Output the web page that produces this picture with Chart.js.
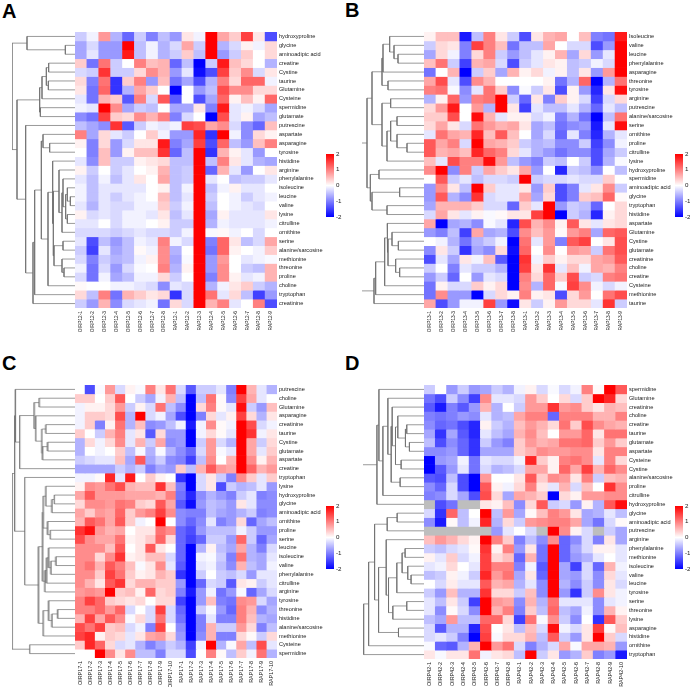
<!DOCTYPE html>
<html>
<head>
<meta charset="utf-8">
<title>Amino acid heatmaps</title>
<script src="https://cdn.jsdelivr.net/npm/chart.js@4"></script>
<style>
    html, body { margin: 0; padding: 0; background: #fff; }
    #page { position: relative; width: 690px; height: 687px; overflow: hidden; }
    #page canvas { position: absolute; }
    .letter { position: absolute; font: bold 20px "Liberation Sans", Arial, sans-serif; color: #000; line-height: 20px; }
</style>
</head>
<body>
<div id="page"></div>
<script>
// ---- panel A ----
const rowsA = ["hydroxyproline","glycine","aminoadipic acid","creatine","Cystine","taurine","Glutamine","Cysteine","spermidine","glutamate","putrescine","aspartate","asparagine","tyrosine","histidine","arginine","phenylalanine","isoleucine","leucine","valine","lysine","citrulline","ornithine","serine","alanine/sarcosine","methionine","threonine","proline","choline","tryptophan","creatinine"];
const colsA = ["OIRP12-1","OIRP12-2","OIRP12-3","OIRP12-4","OIRP12-5","OIRP12-6","OIRP12-7","OIRP12-8","RAP12-1","RAP12-2","RAP12-3","RAP12-4","RAP12-5","RAP12-6","RAP12-7","RAP12-8","RAP12-9"];
const valuesA = [
[-0.4,-0.1,0.8,-0.6,-1.2,-0.4,-1.0,-0.5,-0.8,0.2,-0.1,2,0.7,0.4,1.5,0.2,-1.4],
[-0.7,-0.3,-0.8,-0.8,2,-0.5,-0.1,-0.6,-0.3,0.7,-0.4,2,-0.6,-0.3,0.1,-0.1,0.3],
[-0.7,-0.2,-0.8,-0.8,1.8,-0.5,-0.1,-0.6,-0.4,0.4,-0.5,2,-0.8,-0.4,0.4,0,0.3],
[0.4,-1.1,1.1,-0.4,0,1.0,0.5,0.6,-1.2,-0.5,-2,-0.4,1.8,0.5,0.3,0,-0.6],
[-0.3,-0.4,1.6,-0.4,-0.4,0.3,0.9,0.6,-0.8,-0.2,-1.9,-1.4,1.5,0.4,0.9,-0.3,0.2],
[0.3,-1.0,1.1,-1.6,0.4,1.0,-0.8,0.5,-1.1,-0.7,-1.4,-0.6,1.0,0.3,1.2,1.2,-0.1],
[0.2,-1.1,1.2,-1.6,-0.6,0.7,0.4,0,-2,0,-0.8,-0.5,1.4,0.9,0.9,0.3,0.3],
[-0.2,-1.1,0.6,0.4,-1.3,1.0,-0.3,1.3,-1.3,0,-1.4,-0.7,1.2,0.1,0.5,0.1,1.2],
[-0.1,-0.2,2,0.9,-0.7,-0.4,-0.5,0,-0.7,-0.7,0.2,-1.0,1.8,-0.2,-0.1,-0.3,-0.7],
[-0.9,-1.1,1.5,0.4,0.3,0.9,0.6,1.0,-1.0,-0.3,0,-2,1.4,-0.2,0.1,-0.7,-0.5],
[-0.5,-0.7,-0.9,1.6,-1.3,-0.4,-0.1,-0.2,-0.1,1.5,1.4,0.7,0.9,-0.3,-0.9,-1.2,0.5],
[1.0,-0.7,0.3,-0.2,-0.4,0,0.4,-0.1,-0.8,-0.8,1.7,-1.6,2,-0.1,-0.9,0.3,0.1],
[0.1,-1.0,0.3,-0.8,-0.3,0.2,0.2,1.8,-1.0,-0.7,1.5,-1.4,1.2,-0.5,-0.8,0.5,1.0],
[0,-1.0,0.5,-0.8,0.1,0.5,0.5,1.6,-1.2,-0.5,2,-1.6,0.6,0.1,-0.2,-0.8,0],
[-0.2,-0.9,0.5,-0.4,-0.4,0.1,0.2,0.3,-0.5,-0.5,2,-0.5,1.0,0.2,-0.2,-0.6,-0.7],
[0.1,-0.4,0,-0.4,-0.2,0,0.1,0.6,-0.5,-0.4,2,-1.2,0.6,-0.2,-0.8,0,0.2],
[-0.2,-0.5,-0.1,-0.5,-0.2,0.2,0,0.7,-0.5,-0.4,2,-0.2,0,-0.5,-0.4,-0.4,-0.2],
[-0.1,-0.5,-0.2,-0.2,-0.2,-0.2,0,0.1,-0.5,-0.1,2,-0.5,-0.1,0.1,-0.2,-0.2,0],
[-0.1,-0.5,-0.2,-0.4,-0.2,-0.1,0,0.5,-0.5,-0.2,2,-0.4,0,-0.1,-0.4,-0.2,-0.1],
[-0.2,-0.6,-0.2,-0.3,-0.3,-0.1,-0.1,0.4,-0.4,-0.1,2,-0.5,0,-0.1,-0.2,-0.3,0],
[0.1,-0.3,-0.2,-0.3,-0.1,-0.1,-0.2,0.2,-0.5,-0.2,2,-0.7,0.1,-0.2,-0.2,-0.2,0.2],
[-0.2,-0.2,0,-0.3,-0.1,-0.1,0,0.1,-0.4,-0.4,2,-0.6,-0.1,-0.2,-0.2,-0.2,-0.1],
[-0.3,-0.3,-0.3,-0.4,-0.3,-0.2,-0.3,-0.3,-0.4,-0.1,2,-0.05,0.05,-0.1,0,-0.3,0],
[-0.2,-1.4,-0.5,-0.8,-0.5,-0.1,-0.2,1.0,-0.1,-0.3,2,-1.0,1.2,0.2,-0.5,-0.3,0.7],
[-0.4,-1.5,-0.2,-0.7,-0.5,0.05,-0.1,0.9,-0.6,0,2,-1.1,1.2,0.1,0,-0.1,0.4],
[-0.3,-1.0,-0.4,-0.6,-0.5,-0.1,0.1,0.9,-0.7,-0.05,2,-0.8,0.8,0,-0.2,-0.1,-0.05],
[-0.1,-1.1,-0.3,-0.8,-0.3,-0.05,0,1.0,-0.6,0.1,2,-0.8,0.9,0,-0.4,-0.5,0.6],
[-0.3,-1.1,-0.1,-0.7,-0.5,-0.1,-0.1,0.3,-0.4,0,2,-1.0,0.9,0.1,-0.2,-0.1,0.6],
[0.05,0,0,-0.1,-0.1,-0.2,-0.3,-0.9,-0.2,-0.3,2,-0.6,-0.1,0.2,0.4,-0.4,-0.6],
[0.3,-0.5,1.0,-1.1,0.6,0.4,0.2,0.3,-1.6,-0.3,2,1.1,-0.2,0.3,-0.5,-1.5,-0.8],
[-0.4,-0.8,0.6,-0.9,-0.3,-0.2,-0.1,-1.1,0.3,-0.3,2,0.6,1.0,-0.2,0,1.0,-1.4]
];
// trees: [height, left, right], a plain number is a row
const treeA = [189,
    [144, 0, [29, 1, 2]],
    [174,
        [106, [99, [86, [79, 3, 4], [80, 5, 6]], 7], [104, 8, 9]],
        [148, 10,
            [126,
                [121,
                    [101,
                        [96, 11, [76, 12, 13]],
                        [81,
                            [67, 14,
                                [65,
                                    [48, 15, [39, [36, 16, [28, [23, 17, [14, 18, 19]], [23, 20, 21]]], 22]],
                                    [63, [36, 23, 24], [39, 25, [33, 26, 27]]]
                                ]
                            ],
                            28
                        ]
                    ],
                    29
                ],
                30
            ]
        ]
    ]
];

// ---- panel B ----
const rowsB = ["Isoleucine","valine","leucine","phenylalanine","asparagine","threonine","tyrosine","arginine","putrescine","alanine/sarcosine","serine","ornithine","proline","citrulline","lysine","hydroxyproline","spermidine","aminoadipic acid","glycine","tryptophan","histidine","aspartate","Glutamine","Cystine","glutamate","creatinine","choline","creatine","Cysteine","methionine","taurine"];
const colsB = ["OIRP13-1","OIRP13-2","OIRP13-3","OIRP13-4","OIRP13-5","OIRP13-6","OIRP13-7","OIRP13-8","RAP13-1","RAP13-2","RAP13-3","RAP13-4","RAP13-5","RAP13-6","RAP13-7","RAP13-8","RAP13-9"];
const valuesB = [
[0.1,0.5,0.5,-1.8,-0.5,1.0,0.2,-0.4,-1.4,0.2,0.6,0.7,0,0.5,-1.0,-1.1,1.8],
[-0.4,0.3,0.2,-1.0,1.5,1.0,0.5,-1.1,-0.5,-0.5,0.7,0,-0.3,-0.3,-1.4,-0.8,2],
[-0.7,0.3,-0.1,-1.0,0.3,1.0,-0.4,-0.8,-0.5,-0.2,0.1,0.6,-0.7,0.3,-0.8,-0.2,2],
[0.5,1.1,-0.4,-1.5,0.6,0.7,-0.3,-1.4,-0.4,-0.2,0.2,0.1,-0.5,-0.4,-0.1,-0.3,2],
[-1.1,0,0.6,-2,-0.4,0.4,-0.7,0.6,0.1,0.3,-0.1,0.1,-0.5,0.2,-0.8,0.8,2],
[0.7,1.4,-0.2,-1.4,0.9,0.6,0,0,0,0,0.1,-1.1,-0.6,1.2,-2,-0.6,1.1],
[1.0,1.1,-0.05,-0.9,-0.2,1.1,0.4,-0.9,-0.05,-0.4,0.2,-1.4,0.1,-0.8,-1.7,0.2,1.9],
[-0.6,0.1,1.2,-0.8,1.0,1.1,2,-0.4,-1.2,0.2,-1.0,0.4,0.1,-0.3,-1.5,-0.3,0.3],
[0.3,0.8,1.8,0,0.8,-0.6,2,0.2,-1.5,-0.2,-0.5,-0.5,-0.2,-0.6,-1.2,-0.2,-0.5],
[0.4,0.4,1.4,0,1.9,0.6,-0.2,0.1,0.1,-0.3,-0.1,-1.0,-0.6,-1.1,-2,-0.5,1.1],
[0.3,0.7,0.2,-0.3,1.1,0.8,0.6,0.7,0.2,-0.7,-0.5,-1.1,-0.9,-0.8,-1.8,-0.2,1.9],
[-0.2,1.1,0.7,0.6,1.7,0.5,1.3,0.5,0,-0.7,-0.3,-1.2,-0.2,-1.0,-1.7,-0.6,-0.2],
[1.3,0.7,1.0,-0.3,2,0.7,0.6,0.4,-0.4,-0.6,-0.5,-0.9,-0.9,-0.4,-1.5,-0.9,-0.1],
[1.3,0.6,0.7,0.5,1.7,1.2,1.0,0.3,-0.2,-0.6,-0.8,-1.1,-0.9,-0.9,-1.4,-0.7,-0.4],
[0.5,-0.2,1.4,1.0,1.0,1.9,0.8,-0.5,-0.8,-1.0,-0.4,-0.5,0,-0.4,-1.4,-0.6,-0.05],
[0.9,2,-0.9,1.0,-0.4,0.7,0.4,0.2,0.7,-0.8,0,-1.7,-0.4,-0.5,-0.9,0,-0.5],
[0,1.3,-0.4,-0.2,-0.5,-0.3,-0.3,-0.4,2,-0.4,-0.3,-0.3,-0.2,-0.3,-0.3,0.4,0],
[-0.8,0.9,0.2,-0.5,2,0.4,-0.2,-0.2,0.2,-0.8,0.4,-1.4,-1.0,-0.2,0.2,0.9,-0.4],
[-0.8,1.3,-0.6,-0.9,1.6,-0.3,-0.2,-0.2,0.7,-0.7,0.3,-1.4,-1.0,0.4,0.5,1.2,0.05],
[-0.7,0.6,0.6,0.6,0.4,-0.3,-0.3,-1.2,0.4,-0.2,2,-0.8,-0.4,-0.5,-1.2,0,0.3],
[-0.3,0.7,0.2,-0.2,0.1,-0.05,0.05,0.2,0.2,1.5,2,-2,-0.4,-0.6,-1.7,0.1,0.3],
[0.7,-2,-0.7,-0.6,-0.9,-0.05,-0.2,-1.7,1.4,0.6,0.9,0.1,1.3,0.2,-0.2,0.2,0.3],
[-0.8,-1.0,-0.5,-1.5,0.7,-0.7,-0.6,-1.4,0.9,0.5,0.8,0.05,0.8,1.0,-0.7,1.2,1.3],
[0,-0.1,-0.6,-1.1,-0.6,-0.4,-0.1,-2,1.1,-0.2,0.8,-1.0,1.3,1.5,0,0.2,1.4],
[-0.9,0.2,-0.4,-1.6,-0.7,-0.9,0.3,-1.9,1.2,0,0.9,0,0.8,0.7,-0.4,1.1,1.4],
[-1.4,-0.2,-0.7,0.2,-0.1,0.5,-1.3,-2,1.6,-0.1,0.4,0.1,0.3,0.3,0.7,0.8,1.3],
[-0.4,0,-1.0,-0.2,-0.4,-0.4,-0.6,-2,1.5,0.2,1.6,-0.2,0.5,-0.1,0.7,0.6,1.0],
[-0.8,-0.4,-1.2,0,-0.8,-0.2,-0.3,-2,1.0,0.3,1.2,0.4,1.4,-0.4,-0.3,1.0,1.1],
[-1.1,0.1,-0.3,-0.3,0.4,0.1,0.3,-2,0.9,-0.6,1.2,-0.05,1.5,0.9,-0.1,-0.3,-0.1],
[-1.1,0.9,-0.8,-0.8,-2,-0.3,0.3,0.1,1.0,0.1,0.2,-1.4,0.3,0.8,0,1.1,1.4],
[0.7,-1.4,-0.8,-0.1,-0.1,1.5,-0.8,-1.9,0.2,-0.4,0.1,0.8,0.3,0.3,-0.2,1.6,-0.4]
];
const treeB = [186,
    [171,
        [156,
            [126,
                [123, [103, 0, [90, 1, [78, 2, 3]]], 4],
                [108, 5, 6]
            ],
            [126,
                [100, 7, 8],
                [111, [100, [81, 9, 10], [81, 11, [51, 12, 13]]], 14]
            ]
        ],
        [161,
            [135, 15, 16],
            [156, [73, 17, 18], [111, 19, 20]]
        ]
    ],
    [150,
        [145,
            [118,
                [111, 21,
                    [108,
                        [96, 22, [77, 23, 24]],
                        [85, 25, [73, 26, 27]]
                    ]
                ],
                28
            ],
            29
        ],
        30
    ]
];

// ---- panel C ----
const rowsC = ["putrescine","choline","Glutamine","asparagine","creatinine","taurine","Cystine","glutamate","aspartate","creatine","tryptophan","lysine","hydroxyproline","glycine","aminoadipic acid","ornithine","proline","serine","leucine","isoleucine","valine","phenylalanine","citrulline","arginine","tyrosine","threonine","histidine","alanine/sarcosine","methionine","Cysteine","spermidine"];
const colsC = ["OIRP17-1","OIRP17-2","OIRP17-3","OIRP17-4","OIRP17-5","OIRP17-6","OIRP17-7","OIRP17-8","OIRP17-9","OIRP17-10","RAP17-1","RAP17-2","RAP17-3","RAP17-4","RAP17-5","RAP17-6","RAP17-7","RAP17-8","RAP17-9","RAP17-10"];
const valuesC = [
[0,-1.4,-0.05,0.8,-0.3,0.1,-0.05,1.0,0.2,1.1,-0.3,-1.3,-0.4,-0.4,-0.2,-1.0,2,0.6,-0.2,-0.6],
[0.4,0.4,0,0.4,1.3,0,-0.4,-0.7,-0.1,0.6,-0.5,-2,-0.5,1.1,0.05,-0.9,1.5,0.7,-0.2,0],
[-0.1,0.1,0.1,0.3,0.8,-0.4,0.1,-0.3,1.1,-0.5,-0.9,-2,0.3,1.0,0.05,-0.2,1.9,-0.4,-0.8,0.5],
[-0.1,0.4,0.4,0.3,1.4,-0.6,2,-0.3,-0.1,-0.7,-1.4,-2,-1.0,0.3,-0.2,0.1,1.5,0.3,-0.6,0.2],
[-0.1,0.4,-1.0,0.1,1.1,-0.6,0.5,-0.9,-0.8,-0.5,-0.1,-1.8,-0.1,0.9,0.05,-0.1,2,1.4,-0.3,-0.1],
[0.4,0,-0.4,0.6,1.0,-0.2,0.2,-1.3,0.3,-0.8,-0.8,-2,-0.1,0.3,0.05,-0.2,2,1.6,-0.1,0.2],
[-0.6,0.3,-0.1,0.3,0.9,-0.2,0.6,-0.4,0.7,-0.9,-0.8,-2,-0.4,0.8,-0.3,-0.6,2,0.7,-0.4,0.3],
[-0.6,0,-0.1,0,0.4,-0.5,-0.05,-0.6,-0.05,-0.6,-0.9,-1.2,-0.3,0.8,-0.05,-0.2,2,0.7,-0.2,0.4],
[-0.4,-0.3,-0.2,-0.2,0.5,-0.7,1.3,-0.7,-0.4,-0.9,-1.0,-1.5,-0.5,0.9,0,0.6,2,0.9,0.1,0.6],
[-0.7,-0.7,-0.7,-0.7,-0.4,-0.6,-0.4,-1.0,-0.7,-0.8,0.4,-0.5,0.6,1.3,0.8,0.7,2,1.2,0.6,0.8],
[-0.1,-0.1,0.05,1.7,-0.2,1.8,0,0.4,0.1,0,-1.6,-2,-0.3,0.2,-0.4,-1.0,0.9,0.4,-0.2,0.4],
[0.1,0.9,0.8,1.1,1.4,0.6,0.5,0.5,1.6,0.5,-1.0,-2,-0.3,0.2,-1.4,-0.4,-0.6,-0.5,-0.2,-0.8],
[0.7,1.3,0.8,0.8,0.8,0.7,0.7,0.7,0.6,1.0,-1.1,-1.7,-0.9,-0.6,-0.8,-1.0,-0.4,-0.2,-1.0,-0.9],
[0.3,0.9,0.9,0.8,1.1,1.0,0.4,0.3,1.3,0.7,-1.3,-1.9,-0.8,-0.5,-0.6,-0.8,0.2,-0.2,-0.9,-0.9],
[0.7,0.4,0.8,0.7,1.2,0.4,0.8,1.0,1.5,0.9,-0.9,-1.0,-1.0,-0.5,-0.7,-0.8,-0.6,-0.4,-1.0,-0.9],
[0.6,1.3,1.1,0.7,1.3,0.4,-0.1,0,2,0,-0.9,-1.2,-0.9,-0.2,-1.0,-0.8,0.3,-1.2,-0.7,-0.5],
[1.6,1.9,0.8,0.6,0.7,0,0.2,0.2,1.1,0.9,-1.2,-1.4,-0.8,-0.5,-0.5,-0.5,-0.1,-0.4,-0.8,-0.8],
[1.4,0.9,0.7,0.7,1.1,0.1,0.2,0.4,1.2,0.3,-1.2,-1.5,-1.2,-0.4,-0.4,-0.8,1.2,-0.4,-1.2,-0.7],
[0.9,0.9,0.9,0.5,1.3,0,0.2,1.3,0.2,0,-1.2,-2,-0.6,0.1,-0.5,-0.7,0.7,-0.6,-1.0,-0.3],
[0.9,0.9,0.3,0.9,1.6,0.1,0.2,0.5,0.5,-0.3,-1.2,-2,-0.1,-0.05,-0.4,-1.0,1.1,-0.6,-0.7,-0.2],
[0.9,1.1,0.6,1.3,1.0,0.5,-0.05,0.2,0.9,-0.2,-1.3,-2,-0.2,-0.1,-0.5,-0.9,0.6,-0.5,-0.7,-0.1],
[0.9,0.9,0.4,1.5,1.1,0.4,0.1,0.2,0.6,0.4,-1.6,-2,-0.4,0,-0.4,-0.5,-0.3,-0.8,-0.2,-0.2],
[0.9,0.6,0.2,1.3,1.6,0.3,0.6,0.6,0.4,0.4,-0.8,-2,-1.2,-0.3,-0.4,-1.3,0.2,0.1,-0.4,-0.2],
[0.8,0.9,0.8,2,0.4,0.5,0.1,1.2,0.3,0.4,-1.0,-1.8,-0.8,-0.1,-1.1,-0.8,-0.05,-1.2,-0.7,-0.3],
[1.0,1.5,1.2,0.4,0.3,0.2,0.3,0,0.3,0.3,-1.5,-2,-0.8,0.5,-1.0,-1.1,0.9,0.8,-0.3,-0.7],
[1.0,1.0,1.2,0.8,1.2,-0.3,0,-0.3,1.5,-0.3,-1.2,-2,-0.4,-0.05,-0.8,-1.2,1.0,0.6,-0.9,-0.6],
[0.6,1.5,0.7,1.3,0.9,-0.05,0.3,-0.3,1.1,-0.3,-1.1,-2,-1.0,-0.2,-1.0,-1.0,1.0,0.5,-0.6,-0.7],
[1.4,1.1,1.5,0.4,0.5,-0.3,-0.1,-1.0,1.5,0,-0.9,-2,-1.0,0.6,-0.4,-0.4,0.8,0.3,-1.0,-0.5],
[1.5,1.7,0.1,0.4,0.3,-0.2,0.2,0.7,0.8,0.3,-0.8,-2,-0.9,0.6,-1.0,-1.0,0.3,0.05,-0.4,0.3],
[0.4,1.7,1.2,0.3,-0.3,-0.2,-0.6,-1.0,-0.7,-0.4,-0.6,-1.5,-0.1,2,-0.6,-0.05,0.7,-0.5,1.4,-0.2],
[0,0,2,0.9,0.2,0.9,-0.5,-0.5,-1.0,-0.3,-0.3,-1.4,0,1.0,0.05,-0.5,0.4,-0.1,1.1,-0.6]
];
const treeC = [188,
    [180,
        [178, 0,
            [165,
                [122,
                    [107, 1, 2],
                    [117, 3, [99, [87, 4, 5], [97, [82, 6, 7], 8]]]
                ],
                9
            ]
        ],
        [150, 10,
            [109,
                [97,
                    [95,
                        [87, 11, [69, [62, 12, 13], 14]],
                        [82, 15, [74, 16, 17]]
                    ],
                    [90, [85, [79, 18, [72, [57, 19, 20], 21]], 22], 23]
                ],
                [95, [79, 24, [69, [52, 25, 26], 27]], 28]
            ]
        ]
    ],
    [135, 29, 30]
];

// ---- panel D ----
const rowsD = ["spermidine","Glutamine","creatinine","choline","creatine","taurine","glutamate","aspartate","Cysteine","Cystine","alanine/sarcosine","proline","citrulline","hydroxyproline","glycine","aminoadipic acid","putrescine","arginine","phenylalanine","methionine","isoleucine","valine","leucine","tyrosine","serine","threonine","lysine","asparagine","histidine","ornithine","tryptophan"];
const colsD = ["OIRP42-1","OIRP42-2","OIRP42-3","OIRP42-4","OIRP42-5","OIRP42-6","OIRP42-7","OIRP42-8","RAP42-1","RAP42-2","RAP42-3","RAP42-4","RAP42-5","RAP42-6","RAP42-7","RAP42-8","RAP42-9","RAP42-10"];
// null = no value, drawn grey
const valuesD = [
[-0.4,0,-0.8,-0.4,-0.8,-0.7,-0.4,-0.6,-0.1,0.1,-0.3,-0.05,-0.3,-0.1,1.0,0.05,2,1.3],
[-1.1,-1.4,-0.4,-0.9,-1.5,0.9,-0.2,-0.2,-0.3,0.8,0.4,0,0.3,-0.3,0.4,2,1.7,0.3],
[-1.3,-1.8,-1.0,-1.3,-0.8,0.6,-0.6,0,-0.4,0.8,0.8,1.6,0.8,0.9,0.4,0.2,0.6,0.5],
[-1.0,-1.1,-1.0,-0.8,-0.9,-0.2,-0.6,-0.5,0.7,1.0,1.0,-1.2,1.0,1.0,1.0,0.6,0.6,1.0],
[-0.9,-1.2,-1.1,-1.4,-1.7,0.1,-0.4,-0.6,0.5,0.8,0.6,0.3,1.1,0.4,1.4,0.9,0.7,0.6],
[-0.7,-1.6,-0.7,-1.3,-1.7,-0.2,-0.5,-0.7,0.6,0.9,0.5,0,0.8,0.8,1.2,0.2,1.1,1.1],
[-0.5,-1.4,-0.9,-1.2,-1.6,-0.4,-0.8,-1.0,0.4,0.8,0.6,0.7,1.1,1.1,1.2,0.4,0.8,0.4],
[-0.9,-0.9,-0.8,-1.2,-1.6,-0.7,-0.7,-0.7,0.4,0.6,0.9,0.8,0.8,0.9,0.9,0.2,1.0,1.0],
[-2,-0.8,-0.7,-0.1,-1.1,-0.2,-0.3,-0.3,-0.1,1.7,0.4,0.1,1.0,1.1,0.9,-0.2,1.0,0.3],
[-2,-1.3,-0.8,-0.2,-1.1,-0.3,-0.6,-0.5,-0.3,0.7,0.7,0.1,1.2,0.7,1.5,0.6,1.2,0.9],
[-1.3,-1.4,-0.5,-1.4,-2,0.8,0,0,0.2,1.3,0.4,0.9,0.8,0.2,1.0,-0.4,0.5,0.6],
[-0.9,-1.2,-0.3,-1.4,-2,1.3,0.1,-0.1,0.3,1.0,0.2,-0.2,0.6,-0.3,0.5,0,1.6,0.9],
[-1.0,-0.9,-0.3,-0.7,-1.4,1.4,0.3,-0.7,0.7,0.6,0.4,-2,0.3,0.1,0.8,0.8,0.9,0.9],
[null,-1.4,-1.1,null,null,0.2,0.1,0.5,-0.9,0.3,1.3,-0.4,-0.3,-0.8,0.1,-0.6,1.3,1.9],
[-0.3,-1.6,1.2,-0.5,0,2,-0.5,0.8,-0.7,0.05,0.5,1.0,0.8,0.2,-0.7,-0.6,-0.2,-0.5],
[-0.9,-1.8,0.05,-0.5,-0.1,1.7,-0.6,0.3,-0.4,0.8,0.9,1.0,1.0,0.7,-0.7,-1.1,-0.3,0.05],
[null,null,null,null,null,null,-0.8,-0.2,0,-0.3,null,2,0.9,0.1,-0.3,null,-0.4,-0.7],
[0.5,0.8,0.6,0.3,0.1,2,1.0,0.4,-1.0,-0.5,-0.9,0.9,-1.2,-0.9,-0.3,-1.0,0.2,-0.7],
[-0.4,-0.5,-0.3,-0.2,0.05,1.6,0.1,1.0,-0.8,0.2,-1.1,2,-1.2,-0.7,-0.3,0.1,0.1,-0.2],
[0.1,-0.2,0.4,-0.3,-0.1,1.5,0.3,0.5,-1.2,0.6,-1.1,2,-1.2,-0.8,-0.6,-0.2,0,-0.2],
[-0.2,-0.1,0.3,0,-0.2,1.5,1.0,1.0,-1.0,-0.1,-1.3,2,-0.7,-1.5,-0.3,-1.2,0.6,-0.1],
[-0.5,-0.4,0.1,-0.1,-0.4,1.7,0.8,1.1,-0.7,0.2,-1.2,2,-0.7,-0.8,-0.3,-0.9,0.3,-0.2],
[0,-0.3,0.15,-0.2,-0.2,1.3,0.6,0.7,-0.6,-0.2,-0.9,2,-0.6,-0.9,-0.4,-0.9,0.2,-0.3],
[-0.4,-0.8,0.5,-0.6,-0.6,1.6,0.3,0.3,-0.4,0.5,-0.9,2,-0.8,-1.6,-0.4,0.9,0.2,-0.1],
[-0.2,-0.5,0.2,-0.4,-1.5,2,0.8,0.7,-0.9,0.6,-0.6,1.1,-0.2,-0.2,-0.2,-0.9,-0.2,-0.1],
[-0.2,-0.9,0.05,-0.3,-0.9,2,0.6,1.0,-1.0,0.4,-0.5,1.2,-0.5,-0.7,-0.1,-0.9,0.6,0.1],
[-0.5,-0.7,0.8,-0.5,-0.5,1.2,1.2,0.3,-1.5,1.1,-0.05,0.9,-0.4,-0.9,0,-1.6,1.3,0.4],
[-0.3,-1.3,-0.6,-0.6,-1.7,1.4,0,0.2,-0.5,0.5,-0.3,1.9,-0.1,-0.3,0.2,1.5,0.05,0.5],
[-0.3,-0.2,-0.4,-1.0,-2,1.5,-0.05,0.3,0.3,0.6,-0.5,1.3,-0.4,-0.8,0.2,2,0.4,-0.3],
[-0.05,-1.2,-1.3,-0.6,0.6,2,0.8,1.1,-0.3,-1.0,-0.6,-0.3,0.7,-0.05,0.7,0.7,0.6,-0.8],
[0.2,-0.05,0.2,0.2,1.1,-0.1,0.2,0.3,-0.5,2,-0.4,0.2,-0.8,-0.6,0.4,-1.0,-0.8,-1.8]
];
const treeD = [184,
    [142,
        [136, 0,
            [124,
                [109, 1,
                    [99,
                        [96, 2,
                            [86,
                                [79, 3, [56, [52, 4, 5], [44, 6, 7]]],
                                [69, 8, 9]
                            ]
                        ],
                        [72, 10, 11]
                    ]
                ],
                12
            ]
        ],
        13
    ],
    [182,
        [167,
            [149,
                [111, [81, 14, 15], 16],
                [137,
                    [114, 17,
                        [107,
                            [82, [66, [57, 18, 19], [49, 20, [39, 21, 22]]], 23],
                            [94, [52, 24, 25], 26]
                        ]
                    ],
                    [77, 27, 28]
                ]
            ],
            29
        ],
        30
    ]
];

const colorTicks = [-2, -1, 0, 1, 2];
const naColor = "#BEBEBE";
const textColor = "#1a1a1a";
const fontName = "'Liberation Sans', Arial, sans-serif";

function cellColor(v) {
    if (v === null) return naColor;
    let t = Math.max(-2, Math.min(2, v)) / 2;
    if (t < 0) {
        let c = Math.round(255 * (1 + t));
        return `rgb(${c},${c},255)`;
    }
    let c = Math.round(255 * (1 - t));
    return `rgb(255,${c},${c})`;
}

function addCanvas(left, top, width, height) {
    let canvas = document.createElement("canvas");
    canvas.width = width;
    canvas.height = height;
    canvas.style.left = left + "px";
    canvas.style.top = top + "px";
    canvas.style.width = width + "px";
    canvas.style.height = height + "px";
    document.getElementById("page").appendChild(canvas);
    return canvas.getContext("2d");
}

function drawHeatmap(p) {
    const labelW = 60, labelH = 30;
    let ctx = addCanvas(p.x, p.y, p.w + labelW, p.h + labelH);
    let datasets = p.rows.map((name, r) => ({
        label: name,
        data: p.values[r].map(() => [r, r + 1]),
        backgroundColor: p.values[r].map(cellColor),
        grouped: false,
        barPercentage: 1,
        categoryPercentage: 1,
        borderWidth: 0
    }));
    new Chart(ctx, {
        type: "bar",
        data: { labels: p.cols, datasets: datasets },
        options: {
            responsive: false,
            animation: false,
            events: [],
            layout: { padding: 0 },
            plugins: { legend: { display: false }, tooltip: { enabled: false } },
            scales: {
                x: {
                    position: "bottom",
                    grid: { display: false, drawTicks: false },
                    border: { display: false },
                    ticks: { autoSkip: false, minRotation: 90, maxRotation: 90, padding: 3,
                        color: textColor, font: { family: fontName, size: p.colFont } },
                    afterFit: s => { s.height = labelH; s.paddingLeft = s.paddingRight = 0; }
                },
                y: { display: false, reverse: true, min: 0, max: p.rows.length },
                rows: {
                    type: "category",
                    axis: "y",
                    position: "right",
                    labels: p.rows,
                    offset: true,
                    grid: { display: false, drawTicks: false },
                    border: { display: false },
                    ticks: { autoSkip: false, padding: 2,
                        color: textColor, font: { family: fontName, size: 5.6 } },
                    afterFit: s => { s.width = labelW; s.paddingTop = s.paddingBottom = 0; }
                }
            }
        }
    });
}

function drawTree(p) {
    let ctx = addCanvas(p.x - p.tree[0] / 3, p.y, p.tree[0] / 3, p.h);
    let segments = [];
    // walks the tree and returns the row position of a node
    function walk(node, isRoot) {
        if (typeof node === "number") return { h: 0, y: node + 0.5 };
        let a = walk(node[1], false);
        let b = walk(node[2], false);
        let h = node[0];
        if (isRoot && p.cutRoot) {
            // the reference has no bar at the root of these two trees
            segments.push([{ x: a.h, y: a.y }, { x: h, y: a.y }]);
            segments.push([{ x: b.h, y: b.y }, { x: h, y: b.y }]);
        } else {
            segments.push([{ x: a.h, y: a.y }, { x: h, y: a.y }, { x: h, y: b.y }, { x: b.h, y: b.y }]);
        }
        return { h: h, y: (a.y + b.y) / 2 };
    }
    walk(p.tree, true);
    new Chart(ctx, {
        type: "scatter",
        data: {
            datasets: segments.map(seg => ({
                data: seg,
                showLine: true,
                borderColor: "#6e6e6e",
                borderWidth: 0.7,
                pointRadius: 0,
                clip: false
            }))
        },
        options: {
            responsive: false,
            animation: false,
            events: [],
            layout: { padding: 0 },
            plugins: { legend: { display: false }, tooltip: { enabled: false } },
            scales: {
                x: { display: false, reverse: true, min: 0, max: p.tree[0] },
                y: { display: false, reverse: true, min: 0, max: p.rows.length }
            }
        }
    });
}

function drawColorBar(p) {
    const pad = 4;
    let ctx = addCanvas(p.barX, p.barY - pad, 22, p.barH + pad * 2);
    new Chart(ctx, {
        type: "bar",
        data: {
            labels: ["z"],
            datasets: [{
                data: [[colorTicks[0], colorTicks[colorTicks.length - 1]]],
                barPercentage: 1,
                categoryPercentage: 1,
                borderWidth: 0,
                backgroundColor: c => {
                    let area = c.chart.chartArea;
                    if (!area) return "#fff";
                    let g = c.chart.ctx.createLinearGradient(0, area.bottom, 0, area.top);
                    g.addColorStop(0, "#0000ff");
                    g.addColorStop(0.5, "#ffffff");
                    g.addColorStop(1, "#ff0000");
                    return g;
                }
            }]
        },
        options: {
            responsive: false,
            animation: false,
            events: [],
            layout: { padding: { top: pad, bottom: pad } },
            plugins: { legend: { display: false }, tooltip: { enabled: false } },
            scales: {
                x: { display: false },
                y: {
                    position: "right",
                    min: colorTicks[0],
                    max: colorTicks[colorTicks.length - 1],
                    grid: { display: false, drawTicks: false },
                    border: { display: false },
                    ticks: { stepSize: 1, padding: 2, color: textColor,
                        font: { family: fontName, size: 6.2 } },
                    afterFit: s => { s.width = 14; s.paddingTop = s.paddingBottom = 0; }
                }
            }
        }
    });
}

function addLetter(text, left, top) {
    let div = document.createElement("div");
    div.className = "letter";
    div.textContent = text;
    div.style.left = left + "px";
    div.style.top = top + "px";
    document.getElementById("page").appendChild(div);
}

const panels = [
    { rows: rowsA, cols: colsA, values: valuesA, tree: treeA, x: 75, y: 32, w: 202, h: 276, colFont: 4.8,
      barX: 326, barY: 154, barH: 63, letter: "A", lx: 2, ly: 1 },
    { rows: rowsB, cols: colsB, values: valuesB, tree: treeB, x: 424, y: 32, w: 203, h: 276, colFont: 4.8, cutRoot: true,
      barX: 675, barY: 154, barH: 63, letter: "B", lx: 345, ly: 0 },
    { rows: rowsC, cols: colsC, values: valuesC, tree: treeC, x: 75, y: 385, w: 202, h: 273, colFont: 5.4,
      barX: 326, barY: 506, barH: 63, letter: "C", lx: 2, ly: 353 },
    { rows: rowsD, cols: colsD, values: valuesD, tree: treeD, x: 424, y: 385, w: 203, h: 274, colFont: 5.4, cutRoot: true,
      barX: 675, barY: 506, barH: 63, letter: "D", lx: 345, ly: 353 }
];

panels.forEach(p => {
    drawTree(p);
    drawHeatmap(p);
    drawColorBar(p);
    addLetter(p.letter, p.lx, p.ly);
});
</script>
</body>
</html>
